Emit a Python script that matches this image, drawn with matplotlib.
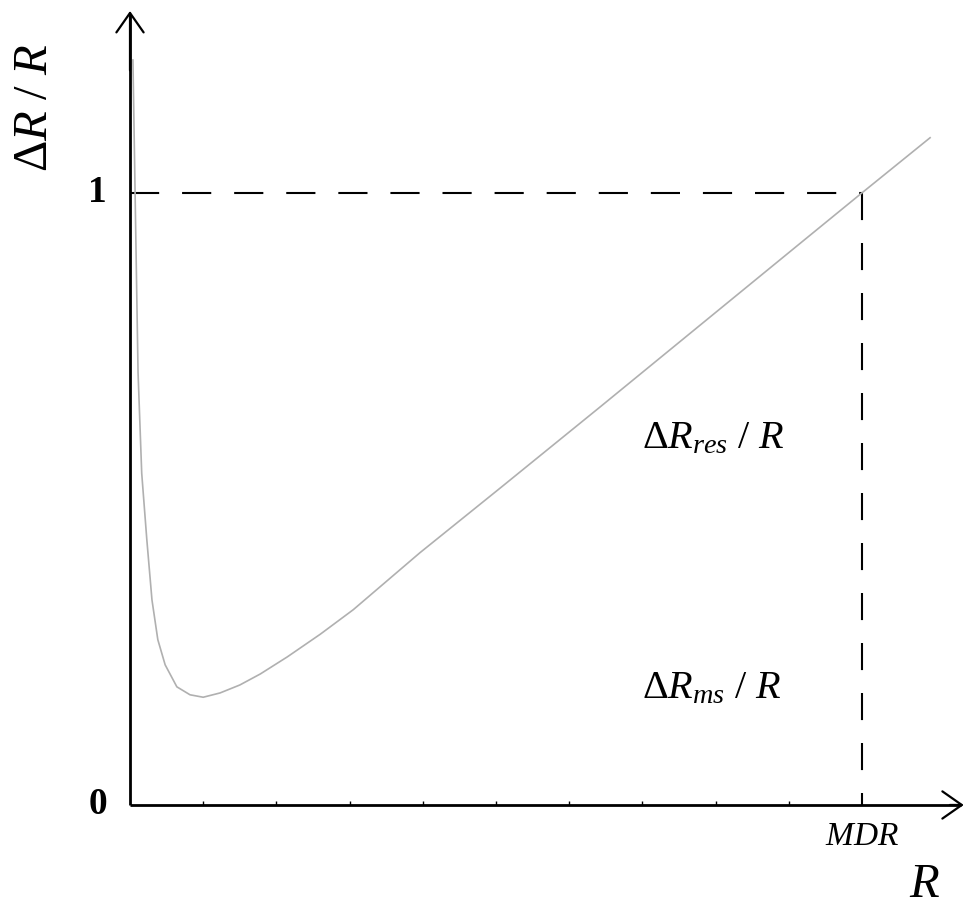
import matplotlib
matplotlib.use("Agg")
import matplotlib.pyplot as plt

plt.rcParams['font.family'] = ['Liberation Serif', 'DejaVu Serif']
plt.rcParams['mathtext.fontset'] = 'custom'
plt.rcParams['mathtext.rm'] = 'Liberation Serif'
plt.rcParams['mathtext.it'] = 'Liberation Serif:italic'
plt.rcParams['mathtext.bf'] = 'Liberation Serif:bold'

# curve (R in tick units, MDR = 10)
r_vals = [0.04, 0.08, 0.11, 0.16, 0.23, 0.30, 0.38, 0.48, 0.64, 0.82, 1.0,
          1.23, 1.5, 1.78, 2.15, 2.6, 3.05, 3.96, 5.06, 6.42, 7.79, 9.15,
          10.0, 10.93]
dr_vals = [1.217, 0.923, 0.706, 0.542, 0.433, 0.335, 0.270, 0.229, 0.193,
           0.180, 0.176, 0.183, 0.196, 0.214, 0.242, 0.279, 0.319, 0.412,
           0.518, 0.650, 0.784, 0.917, 1.0, 1.090]
tick_pos = [1, 2, 3, 4, 5, 6, 7, 8, 9]
mdr = 10
y_ticks = [0, 1]
y_tick_labels = ["0", "1"]

fig = plt.figure(figsize=(9.65, 9.05), dpi=100)
ax = fig.add_axes([0, 0, 1, 1])
ax.set_xlim(-1.776, 11.407)
ax.set_ylim(-0.1634, 1.315)
ax.axis("off")

# axes with open arrow heads
ax.plot([0, 0], [0, 1.29], color="black", lw=2.0, solid_capstyle="butt")
ax.plot([0, 11.35], [0, 0], color="black", lw=2.0, solid_capstyle="butt")
arrow = dict(arrowstyle="->,head_length=1.0,head_width=0.7", lw=1.6,
             color="black", mutation_scale=14, shrinkA=0, shrinkB=0)
ax.annotate("", xy=(0, 1.297), xytext=(0, 1.2), arrowprops=arrow)
ax.annotate("", xy=(11.39, 0), xytext=(11.2, 0), arrowprops=arrow)

# small ticks on the R axis
ax.vlines(tick_pos, 0, 0.006, color="black", lw=1)

# dashed guide lines
ax.plot([0, mdr], [1, 1], color="black", lw=1.5, dashes=(14, 11))
ax.plot([mdr, mdr], [1, 0], color="black", lw=1.5, dashes=(13, 11))

# curve
ax.plot(r_vals, dr_vals, color="#b0b0b0", lw=1.2)

# labels
for yv, lab in zip(y_ticks, y_tick_labels):
    ax.text(-0.44, yv, lab, fontsize=27, fontweight="bold",
            ha="center", va="center")
ax.text(-1.3, 1.14, r"$\Delta R\ /\ R$", fontsize=35, rotation=90,
        ha="center", va="center")
ax.text(mdr, -0.052, r"$MDR$", fontsize=24, ha="center", va="center")
ax.text(10.86, -0.13, r"$R$", fontsize=35, ha="center", va="center")
ax.text(7.0, 0.598, r"$\Delta R_{res}\ /\ R$", fontsize=29,
        ha="left", va="center")
ax.text(7.0, 0.19, r"$\Delta R_{ms}\ /\ R$", fontsize=29,
        ha="left", va="center")

fig.savefig("out.png", dpi=100)
